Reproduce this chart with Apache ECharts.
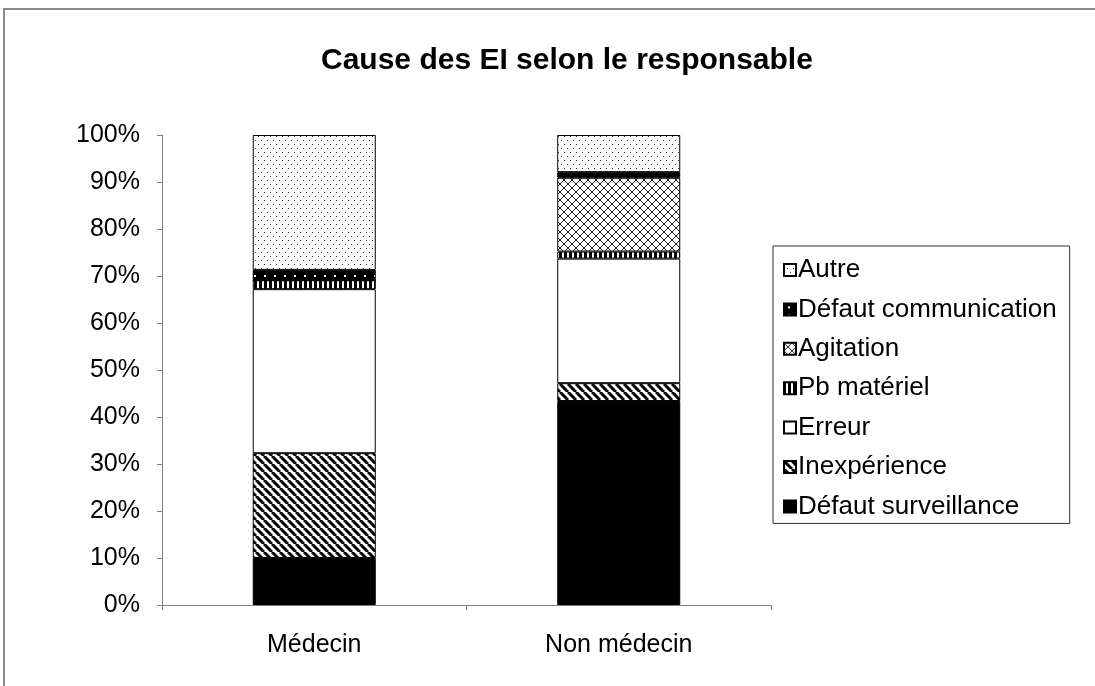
<!DOCTYPE html>
<html>
<head>
<meta charset="utf-8">
<script src="https://cdn.jsdelivr.net/npm/echarts@6/dist/echarts.min.js"></script>
<style>
  html, body { margin: 0; padding: 0; background: #fff; }
  #chart { width: 1095px; height: 686px; }
</style>
</head>
<body>
<div id="chart"></div>
<script>
// Share of adverse events (%) by cause, per responsible party
const categories = ['Médecin', 'Non médecin'];
const defautSurveillance = [10.0, 43.4];
const inexperience = [22.3, 3.8];
const erreur = [34.9, 26.5];
const pbMateriel = [1.9, 1.5];
const agitation = [0, 15.7];
const defautCommunication = [2.2, 1.2];
const autre = [28.7, 7.9];
const yTicks = [0, 10, 20, 30, 40, 50, 60, 70, 80, 90, 100];

// Small canvas tiles used as repeating fills (black & white print style)
function tile(w, h, draw) {
  const c = document.createElement('canvas');
  c.width = w; c.height = h;
  const ctx = c.getContext('2d');
  draw(ctx, w, h);
  return { image: c, repeat: 'repeat' };
}
const fillSolidBlack = '#000000';
const fillWhite = '#ffffff';
const fillStripes = tile(8, 8, (ctx) => {
  ctx.fillStyle = '#fff'; ctx.fillRect(0, 0, 8, 8);
  ctx.strokeStyle = '#000'; ctx.lineWidth = 3;
  ctx.beginPath();
  [-8, 0, 8].forEach(k => { ctx.moveTo(k, 0); ctx.lineTo(k + 8, 8); });
  ctx.stroke();
});
const fillVBars = tile(5, 4, (ctx) => {
  ctx.fillStyle = '#000'; ctx.fillRect(0, 0, 5, 4);
  ctx.fillStyle = '#fff'; ctx.fillRect(2, 0, 2, 4);
});
const fillCross = tile(8, 8, (ctx) => {
  ctx.fillStyle = '#fff'; ctx.fillRect(0, 0, 8, 8);
  ctx.strokeStyle = '#222'; ctx.lineWidth = 1;
  ctx.beginPath();
  ctx.moveTo(0, 0); ctx.lineTo(8, 8);
  ctx.moveTo(8, 0); ctx.lineTo(0, 8);
  ctx.stroke();
});
const fillDarkDots = tile(10, 8, (ctx) => {
  ctx.fillStyle = '#000'; ctx.fillRect(0, 0, 10, 8);
  ctx.fillStyle = '#fff'; ctx.fillRect(4, 3, 2, 2);
});
const fillLightDots = tile(6, 8, (ctx) => {
  ctx.fillStyle = '#fff'; ctx.fillRect(0, 0, 6, 8);
  ctx.fillStyle = '#333';
  ctx.fillRect(0, 0, 1, 1);
  ctx.fillRect(3, 4, 1, 1);
});

const FONT = 'Liberation Sans, Arial, Helvetica, sans-serif';

function barSeries(name, data, fill) {
  return {
    name: name,
    type: 'bar',
    stack: 'total',
    barWidth: '40.4%',
    data: data,
    itemStyle: { color: fill, borderColor: '#000', borderWidth: 1 },
    emphasis: { disabled: true }
  };
}

const chart = echarts.init(document.getElementById('chart'), null, { renderer: 'canvas' });
chart.setOption({
  animation: false,
  backgroundColor: '#fff',
  title: {
    text: 'Cause des EI selon le responsable',
    left: 316,
    top: 41,
    textStyle: { fontFamily: FONT, fontSize: 30, fontWeight: 'bold', color: '#000' }
  },
  graphic: [{
    type: 'rect',
    shape: { x: 4, y: 9, width: 1300, height: 900 },
    style: { fill: 'none', stroke: '#8a8a8a', lineWidth: 2 },
    silent: true
  }],
  grid: { left: 162, right: 324, top: 135, bottom: 81 },
  legend: {
    orient: 'vertical',
    left: 773,
    top: 246,
    padding: [11, 13, 4, 10],
    borderColor: '#333',
    borderWidth: 1,
    itemWidth: 12,
    itemHeight: 12,
    itemGap: 13.4,
    icon: 'rect',
    data: ['Autre', 'Défaut communication', 'Agitation', 'Pb matériel', 'Erreur', 'Inexpérience', 'Défaut surveillance'],
    textStyle: { fontFamily: FONT, fontSize: 26, color: '#000', padding: [0, 0, 0, -3] }
  },
  xAxis: {
    type: 'category',
    data: categories,
    axisLine: { lineStyle: { color: '#808080', width: 1 } },
    axisTick: { show: true, length: 5, lineStyle: { color: '#808080' } },
    axisLabel: { fontFamily: FONT, fontSize: 25, color: '#000', margin: 28 }
  },
  yAxis: {
    type: 'value',
    min: yTicks[0],
    max: yTicks[yTicks.length - 1],
    interval: yTicks[1] - yTicks[0],
    splitLine: { show: false },
    axisLine: { show: true, lineStyle: { color: '#808080', width: 1 } },
    axisTick: { show: true, length: 5, lineStyle: { color: '#808080' } },
    axisLabel: { fontFamily: FONT, fontSize: 25, color: '#000', margin: 22, formatter: '{value}%' }
  },
  series: [
    barSeries('Défaut surveillance', defautSurveillance, fillSolidBlack),
    barSeries('Inexpérience', inexperience, fillStripes),
    barSeries('Erreur', erreur, fillWhite),
    barSeries('Pb matériel', pbMateriel, fillVBars),
    barSeries('Agitation', agitation, fillCross),
    barSeries('Défaut communication', defautCommunication, fillDarkDots),
    barSeries('Autre', autre, fillLightDots)
  ]
});
</script>
</body>
</html>
